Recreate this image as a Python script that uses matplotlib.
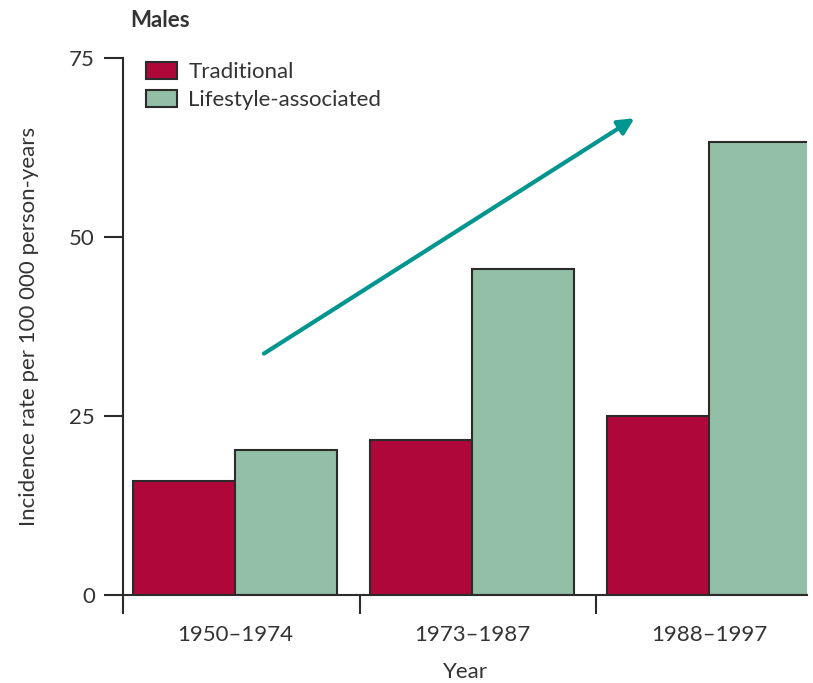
import numpy as np
import matplotlib
matplotlib.use("Agg")
from matplotlib import pyplot as plt
from matplotlib.patches import Patch

plt.rcParams['font.family'] = ['Lato', 'DejaVu Sans']

# data
periods = ['1950\u20131974', '1973\u20131987', '1988\u20131997']
traditional = [15.9, 21.6, 25.0]
lifestyle = [20.2, 45.5, 63.3]
yticks = [0, 25, 50, 75]

red = '#B0073A'
green = '#93BFA6'
edge = '#2b2b2b'
txt = '#333333'

fig = plt.figure(figsize=(8.13, 6.83), dpi=100)
ax = fig.add_axes([0.151, 0.129, 0.842, 0.786])

x = np.arange(len(periods)) + 0.475
w = 0.43
ax.bar(x - w / 2, traditional, w, color=red, edgecolor=edge, linewidth=1.5, zorder=2)
ax.bar(x + w / 2, lifestyle, w, color=green, edgecolor=edge, linewidth=1.5, zorder=2)

ax.set_xlim(0, 2.89)
ax.set_ylim(0, 75)
ax.set_yticks(yticks)
ax.tick_params(axis='y', length=14, width=1.5, color=edge, labelsize=16, labelcolor=txt, pad=6)

# group separators as major ticks, labels on minor ticks
ax.set_xticks([0, 1, 2])
ax.set_xticklabels([])
ax.set_xticks(x, minor=True)
ax.set_xticklabels(periods, minor=True)
ax.tick_params(axis='x', which='major', length=14, width=1.5, color=edge)
ax.tick_params(axis='x', which='minor', length=0, labelsize=16, labelcolor=txt, pad=22)

for s in ['top', 'right']:
    ax.spines[s].set_visible(False)
for s in ['left', 'bottom']:
    ax.spines[s].set_linewidth(1.5)
    ax.spines[s].set_color(edge)

ax.set_xlabel('Year', fontsize=16, color=txt, labelpad=12)
ax.set_ylabel('Incidence rate per 100 000 person-years', fontsize=16, color=txt, labelpad=22)

ax.annotate('', xy=(2.17, 66.8), xytext=(0.586, 33.5),
            arrowprops=dict(arrowstyle='-|>', color='#00968F', lw=3, mutation_scale=24),
            zorder=3)

handles = [Patch(facecolor=red, edgecolor=edge, linewidth=1.5, label='Traditional'),
           Patch(facecolor=green, edgecolor=edge, linewidth=1.5, label='Lifestyle-associated')]
leg = ax.legend(handles=handles, loc='upper left', bbox_to_anchor=(0.005, 1.03), frameon=False,
                fontsize=16, handlelength=1.4, handleheight=0.8, handletextpad=0.5,
                labelspacing=0.35)
for t in leg.get_texts():
    t.set_color(txt)

fig.text(0.16, 0.97, 'Males', fontsize=16, fontweight='bold', color=txt, va='center')

fig.savefig('out.png', dpi=100)
